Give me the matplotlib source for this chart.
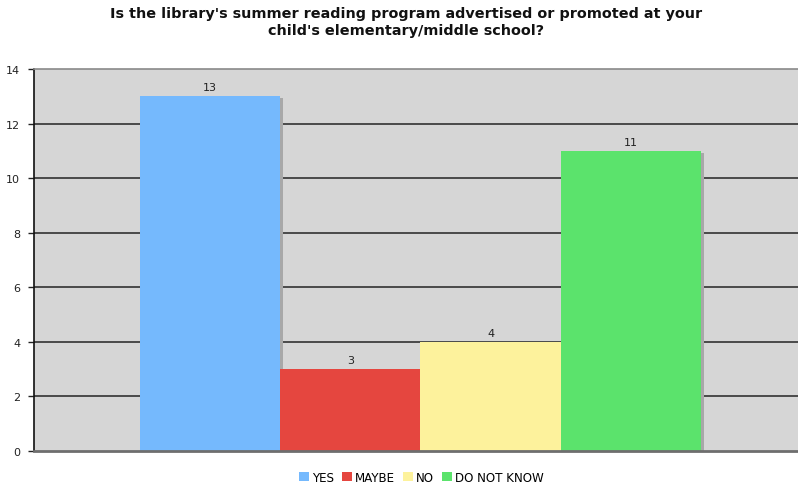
import matplotlib.pyplot as plt
import matplotlib.patheffects as pe

categories = ["YES", "MAYBE", "NO", "DO NOT KNOW"]
counts = [13, 3, 4, 11]
colors = ["#75b9fd", "#e5463f", "#fdf29c", "#5be36c"]
title = "Is the library's summer reading program advertised or promoted at your\nchild's elementary/middle school?"

fig = plt.figure(figsize=(7.98, 4.85), dpi=100)
ax = fig.add_axes([0.0426, 0.068, 0.9574, 0.7877])
ax.set_facecolor("#d6d6d6")

# horizontal grid lines
for y in range(2, 14, 2):
    ax.axhline(y, color="#4a4a4a", lw=1.4, zorder=1)

shadow = [pe.SimplePatchShadow(offset=(2.2, -1.4), shadow_rgbFace="#a8a8a8", alpha=1.0),
          pe.Normal()]
for i, (cat, val, col) in enumerate(zip(categories, counts, colors)):
    ax.bar(i, val, width=1.0, color=col, label=cat, zorder=2, linewidth=0,
           edgecolor="none", path_effects=shadow)
    ax.annotate(str(val), (i, val), xytext=(0, 3), textcoords="offset points",
                ha="center", va="bottom", fontsize=8, color="#222222")

ax.set_xlim(-1.254, 4.19)
ax.set_ylim(0, 14)
ax.set_yticks(range(0, 15, 2))
ax.set_xticks([])
ax.tick_params(axis="y", direction="out", length=4, width=1, labelsize=8,
               colors="#222222", pad=6)

ax.spines["right"].set_visible(False)
ax.spines["top"].set_color("#8a8a8a")
ax.spines["top"].set_linewidth(1.2)
ax.spines["left"].set_color("#111111")
ax.spines["left"].set_linewidth(1.2)
ax.spines["bottom"].set_color("#6e6e6e")
ax.spines["bottom"].set_linewidth(2)

fig.text(0.509, 0.986, title, ha="center", va="top", fontsize=10.4,
         fontweight="bold", color="#111111", linespacing=1.25)

leg = fig.legend(loc="lower center", bbox_to_anchor=(0.528, -0.022), ncol=4,
                 frameon=False, fontsize=8.6, handlelength=0.8, handleheight=0.8,
                 handletextpad=0.25, columnspacing=0.7)
for h in leg.legend_handles:
    h.set_path_effects([])

fig.savefig("out.png", dpi=100)
